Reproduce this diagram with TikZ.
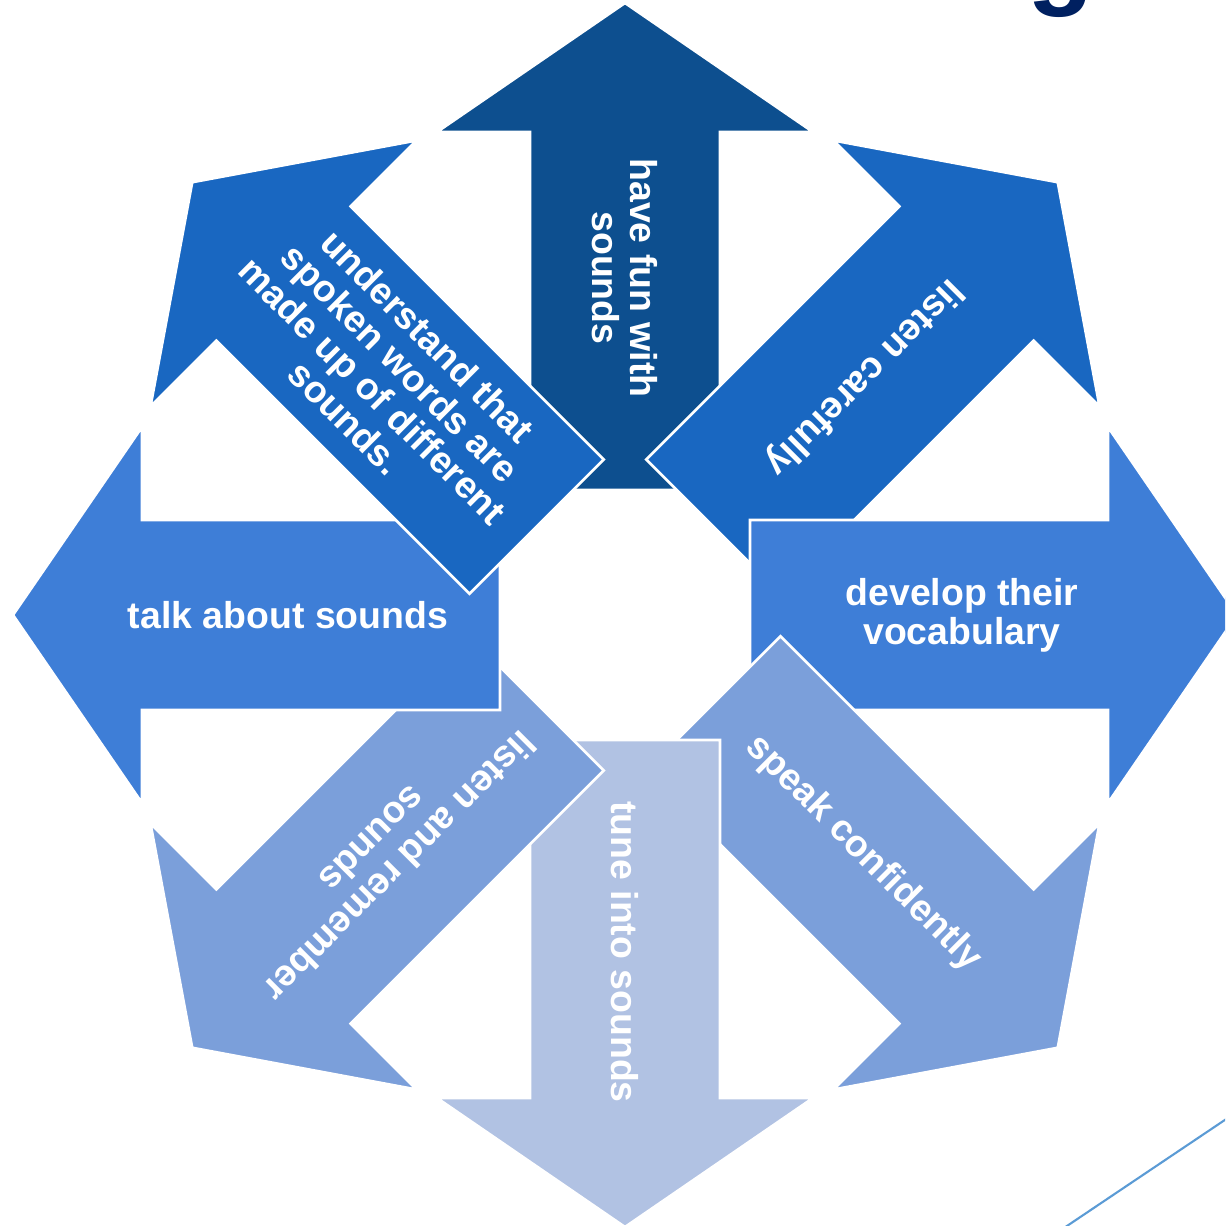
\documentclass[tikz,border=0pt]{standalone}
\usepackage{fontspec}
\setmainfont{Liberation Sans}
\usepackage{tikz}
\definecolor{armDark}{HTML}{0D4F8F}
\definecolor{armMid}{HTML}{1967C1}
\definecolor{armLight}{HTML}{3E7ED7}
\definecolor{armPale}{HTML}{7B9FDA}
\definecolor{armPaler}{HTML}{B1C2E3}
\definecolor{titleNavy}{HTML}{002060}
\definecolor{lineBlue}{HTML}{5B9BD5}

\begin{document}
\begin{tikzpicture}[
    % 定義樣式
    x=0.02cm, y=0.02cm,
    arrowshape/.style={draw=white, line width=1.5pt, line join=miter},
    arrowtext/.style={text=white, align=center, inner sep=0pt,
        font=\bfseries\fontsize{21.3}{22}\selectfont},
    titletext/.style={text=titleNavy, inner sep=0pt,
        font=\bfseries\fontsize{62}{62}\selectfont}
]

    % 設定箭頭尺寸 (單位: 像素)
    \def\shaftIn{125}
    \def\headBase{483}
    \def\tipLen{612}
    \def\shaftHalf{95}
    \def\headHalf{188}
    \def\textPos{337}

    % --- 0. 畫布範圍 ---
    \useasboundingbox (-625,-611) rectangle (600,615);
    \clip (-625,-611) rectangle (600,615);

    % --- 1. 標題殘字 ---
    \node[titletext, anchor=base] (title) at (436,620) {g};

    % --- 2. 八個箭頭 (依序疊放) ---
    \foreach \ang / \col in {90/armDark, 45/armMid, 0/armLight, -45/armPale,
                             -90/armPaler, -135/armPale, 180/armLight, 135/armMid}
        \filldraw[arrowshape, fill=\col, rotate=\ang]
            (\shaftIn,-\shaftHalf) -- (\headBase,-\shaftHalf) -- (\headBase,-\headHalf)
            -- (\tipLen,0) -- (\headBase,\headHalf) -- (\headBase,\shaftHalf)
            -- (\shaftIn,\shaftHalf) -- cycle;

    % --- 3. 箭頭文字 ---
    \foreach \name / \ang / \rot / \txt in {
            1/90/-90/{have fun with\\sounds},
            2/45/-135/{listen carefully},
            3/0/0/{develop their\\vocabulary},
            4/-45/-45/{speak confidently},
            5/-90/-90/{tune into sounds},
            6/-135/-135/{listen and remember\\sounds},
            7/180/0/{talk about sounds},
            8/135/-45/{understand that\\spoken words are\\made up of different\\sounds.}}
        \node[arrowtext, rotate=\rot] (A-\name) at (\ang:\textPos) {\txt};

    % --- 4. 右下角細線 ---
    \coordinate (deco-a) at (430,-619);
    \coordinate (deco-b) at (640,-478);
    \draw[lineBlue, line width=1.2pt] (deco-a) -- (deco-b);

\end{tikzpicture}
\end{document}
